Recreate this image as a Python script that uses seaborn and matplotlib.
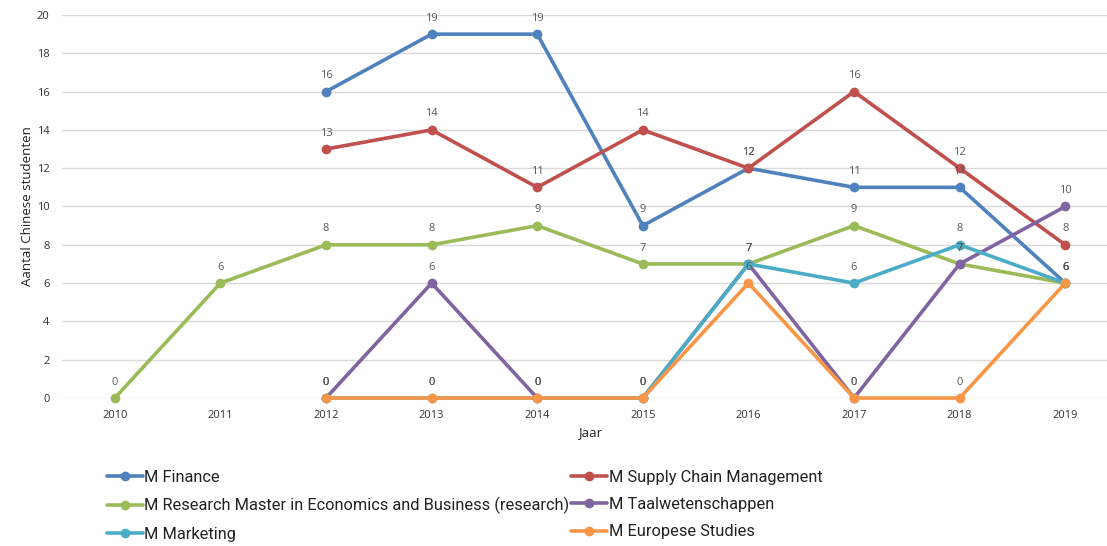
import matplotlib
matplotlib.use("Agg")
import matplotlib.pyplot as plt
import pandas as pd
import numpy as np
import seaborn as sns

years = [2010, 2011, 2012, 2013, 2014, 2015, 2016, 2017, 2018, 2019]
programmes = ['M Finance', 'M Supply Chain Management',
              'M Research Master in Economics and Business (research)',
              'M Taalwetenschappen', 'M Marketing', 'M Europese Studies']
finance = [np.nan, np.nan, 16, 19, 19, 9, 12, 11, 11, 6]
supply_chain = [np.nan, np.nan, 13, 14, 11, 14, 12, 16, 12, 8]
research_master = [0, 6, 8, 8, 9, 7, 7, 9, 7, 6]
taalwetenschappen = [np.nan, np.nan, 0, 6, 0, 0, 7, 0, 7, 10]
marketing = [np.nan, np.nan, 0, 0, 0, 0, 7, 6, 8, 6]
europese_studies = [np.nan, np.nan, 0, 0, 0, 0, 6, 0, 0, 6]
colors = ['#4f81bd', '#c0504d', '#9bbb59', '#8064a2', '#4bacc6', '#f79646']

series = [finance, supply_chain, research_master, taalwetenschappen, marketing, europese_studies]
rows = []
for name, vals in zip(programmes, series):
    for i, (yr, v) in enumerate(zip(years, vals)):
        rows.append({'pos': i, 'Jaar': str(yr), 'Opleiding': name, 'Aantal': v})
df = pd.DataFrame(rows)

sns.set_style('white')
plt.rcParams['font.family'] = ['Open Sans', 'DejaVu Sans']

fig = plt.figure(figsize=(11.07, 5.46), dpi=100)
ax = fig.add_axes([62 / 1107, 1 - 398 / 546, 1 - 62 / 1107 + 0.01, 383 / 546])

sns.lineplot(data=df.dropna(), x='pos', y='Aantal', hue='Opleiding', hue_order=programmes,
             palette=colors, marker='o', markersize=7, markeredgewidth=0, linewidth=2.6,
             ax=ax, legend=False, clip_on=False, zorder=3)

for name, vals in zip(programmes, series):
    for i, v in enumerate(vals):
        if not np.isnan(v):
            ax.annotate(f'{int(v)}', (i, v), xytext=(0, 7.5), textcoords='offset points',
                        ha='center', va='bottom', fontsize=8, color='#595959')

ax.set_xlim(-0.5, 9.5)
ax.set_ylim(0, 20)
ax.set_yticks(range(0, 21, 2))
ax.set_xticks(range(len(years)))
ax.set_xticklabels([str(y) for y in years])
ax.tick_params(axis='both', labelsize=8, colors='#333333', length=0)
ax.tick_params(axis='y', pad=9)
ax.tick_params(axis='x', pad=9)
ax.yaxis.grid(True, color='#d9d9d9', linewidth=1)
ax.set_axisbelow(True)
for s in ax.spines.values():
    s.set_visible(False)
ax.set_xlabel('Jaar', fontsize=9.5, color='#222222', labelpad=3)
ax.set_ylabel('Aantal Chinese studenten', fontsize=9.5, color='#222222', labelpad=2)

# legend: rows are Finance/SCM, Research/Taal, Marketing/Europese
handles = [plt.Line2D([], [], color=c, marker='o', markersize=6, linewidth=2.6) for c in colors]
order = [0, 2, 4, 1, 3, 5]
fig.legend([handles[i] for i in order], [programmes[i] for i in order], ncol=2,
           loc='upper left', bbox_to_anchor=(92 / 1107, 1 - 455 / 546), frameon=False,
           prop={'family': ['Roboto', 'DejaVu Sans'], 'size': 11.8},
           handlelength=2.2, handletextpad=0.1, columnspacing=0.1, labelspacing=0.75,
           labelcolor='#222222')

fig.savefig('out.png', dpi=100)
